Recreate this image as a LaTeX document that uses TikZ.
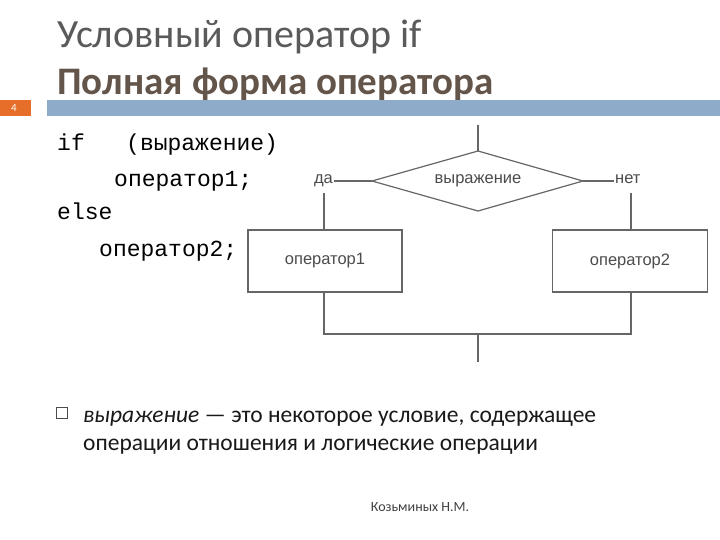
\documentclass[tikz,border=0pt]{standalone}
\usepackage{fontspec}
\setmainfont{Carlito}
\newfontfamily\codefont{Liberation Mono}
\newfontfamily\chartfont{Liberation Sans}
\definecolor{titlegray}{RGB}{90,90,90}
\definecolor{titlebrown}{RGB}{100,85,75}
\definecolor{barblue}{RGB}{142,172,202}
\definecolor{pgorange}{RGB}{230,110,40}
\begin{document}
\begin{tikzpicture}[x=1pt,y=-1pt,
  ln/.style={line width=1.2pt,draw=black!60},
  box/.style={ln,fill=white},
  chart/.style={font=\chartfont\fontsize{16.5}{16.5}\selectfont,text=black!70},
  code/.style={font=\codefont\fontsize{23}{23}\selectfont,anchor=base west}]
\useasboundingbox (0,0) rectangle (720,540);
\fill[white] (0,0) rectangle (720,540);
\node[anchor=base west,inner sep=0pt,text=titlegray,font=\fontsize{40}{40}\selectfont] (t1) at (57,48) {Условный оператор if};
\node[anchor=base west,inner sep=0pt,text=titlebrown,font=\bfseries\fontsize{39}{39}\selectfont] (t2) at (57,95) {Полная форма оператора};
\fill[barblue] (47,100) rectangle (720,116);
\fill[pgorange] (0,100) rectangle (31,116);
\node[text=white,font=\fontsize{11}{11}\selectfont] (pg) at (14,108) {4};
\node[code,inner sep=0pt] (c1) at (57,151) {if\ \ \ (выражение)};
\node[code,inner sep=0pt] (c2) at (114,187) {оператор1;};
\node[code,inner sep=0pt] (c3) at (57,220) {else};
\node[code,inner sep=0pt] (c4) at (99,256) {оператор2;};
% flowchart
\coordinate (top) at (478,125);
\draw[ln] (372,181) -- (478,151) -- (583,181) -- (478,211) -- cycle;
\node[chart] (dt) at (478,181) {выражение};
\node[chart,anchor=mid east,inner sep=1pt] (da) at (334,181) {да};
\node[chart,anchor=mid west,inner sep=1pt] (net) at (614,181) {нет};
\draw[ln] (top) -- (478,151);
\draw[ln] (372,181) -- (da.mid east);
\draw[ln] (583,181) -- (net.mid west);
\node[box,minimum width=154pt,minimum height=62pt,chart] (o1) at (325,261) {оператор1};
\node[box,minimum width=155pt,minimum height=62pt,chart] (o2) at (630,261) {оператор2};
\draw[ln] (324,193) -- (o1.north -| 324,0);
\draw[ln] (631,193) -- (o2.north -| 631,0);
\coordinate (bl) at (324,334);
\coordinate (br) at (631,334);
\coordinate (bot) at (478,362);
\draw[ln] (o1.south -| bl) -- (bl) -- (br) -- (o2.south -| br);
\draw[ln] (478,334) -- (bot);
% bullet
\draw[black!70,line width=0.8pt] (56,407) rectangle (67,418);
\node[anchor=base west,inner sep=0pt,font=\fontsize{23.5}{28}\selectfont,text=black!90] (b) at (83,422) {\textit{выражение} — это некоторое условие, содержащее};
\node[anchor=base west,inner sep=0pt,font=\fontsize{23.5}{28}\selectfont,text=black!90] (b2) at (83,450) {операции отношения и логические операции};
\node[font=\fontsize{14}{14}\selectfont,text=black!75] (f) at (420,507) {Козьминых Н.М.};
\end{tikzpicture}
\end{document}
